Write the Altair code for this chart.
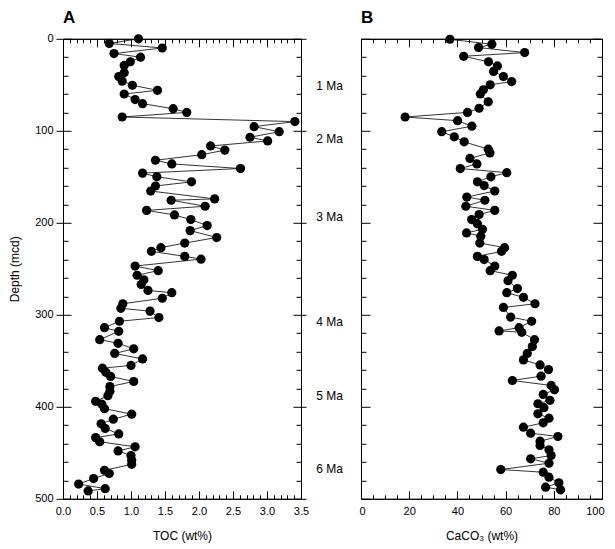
import altair as alt
import pandas as pd

# ---------------- data ----------------
toc_depth = [0, 5, 10, 16, 20, 25, 29, 37, 41, 46, 50.5, 56, 60, 66, 70.5, 76, 80, 85,
             90, 95.5, 101, 107, 111, 116.5, 121, 126, 132, 136, 141, 146, 150, 155.5,
             160, 165.5, 174, 175.5, 182, 186.5, 191.5, 196.5, 203, 208.5, 216, 222, 227,
             231, 236.5, 239.5, 247, 252, 257, 262, 267, 273.5, 276, 282, 288, 293, 296,
             303, 307, 314, 318, 327, 331, 337, 342, 348, 355, 358, 362.5, 367, 372.5,
             378, 383, 388, 394, 397, 402, 408, 413.5, 418.5, 423.5, 429.5, 433.5, 438,
             443.5, 448, 453, 458, 462.5, 469, 472.5, 478, 484, 489, 491.5]
toc_value = [1.11, 0.68, 1.46, 0.75, 1.14, 0.99, 0.90, 0.90, 0.82, 0.87, 1.02, 1.39, 0.90,
             1.06, 1.17, 1.62, 1.82, 0.87, 3.41, 2.81, 3.18, 2.75, 3.01, 2.17, 2.38, 2.04,
             1.36, 1.60, 2.61, 1.17, 1.38, 1.89, 1.36, 1.29, 2.23, 1.59, 2.09, 1.23, 1.64,
             1.88, 2.12, 1.87, 2.26, 1.79, 1.44, 1.30, 1.79, 2.03, 1.06, 1.40, 1.09, 1.19,
             1.15, 1.25, 1.60, 1.46, 0.88, 0.85, 1.28, 1.41, 0.83, 0.61, 0.82, 0.54, 0.81,
             1.04, 0.76, 1.17, 1.00, 0.58, 0.63, 0.70, 1.04, 0.69, 0.69, 0.66, 0.48, 0.57,
             0.61, 1.01, 0.74, 0.56, 0.62, 0.82, 0.48, 0.54, 1.06, 0.81, 1.00, 1.01, 1.01,
             0.61, 0.68, 0.45, 0.23, 0.62, 0.37]

caco3_depth = [0.5, 6, 9.5, 15, 19, 25, 29.5, 35.5, 41, 46.5, 50, 55.5, 60, 68.5, 75.5, 80,
               85, 89, 95, 101, 106.5, 112, 120, 124, 130, 136, 141, 145.5, 150, 155.5,
               159.5, 165.5, 172, 175.5, 182, 186.5, 191, 196.5, 201, 207, 211, 214.5, 222,
               227, 231, 236.5, 240, 247, 252, 257, 263, 271.5, 276, 281, 288, 292, 302.5,
               307, 314, 317.5, 319, 327, 334.5, 342, 349, 354.5, 359.5, 366.7, 371.4,
               376.8, 381.5, 386.6, 393, 396.7, 401, 407.6, 412.4, 417.4, 422.2, 428.7,
               432.3, 437.4, 442, 446.7, 453, 456.5, 461.3, 468.2, 471.1, 476.5, 482.6,
               487.4, 490.2]
caco3_value = [36.9, 54.3, 48.8, 67.9, 42.6, 52.9, 56.6, 55.0, 59.1, 62.5, 53.6, 50.8, 49.5,
               52.8, 49.0, 44.2, 18.3, 40.1, 46.0, 33.5, 38.7, 42.8, 52.8, 53.5, 45.2, 48.1,
               41.2, 60.5, 53.9, 48.3, 51.1, 55.5, 43.9, 51.4, 43.5, 55.5, 49.0, 45.9, 48.3,
               50.4, 43.8, 49.7, 49.3, 59.6, 58.3, 48.3, 51.1, 55.5, 53.6, 62.8, 61.0, 64.9,
               60.5, 67.4, 72.2, 59.1, 62.1, 70.8, 65.6, 57.3, 66.7, 72.0, 71.1, 69.0, 67.4,
               74.3, 77.8, 74.7, 62.8, 78.9, 80.3, 75.6, 78.4, 73.4, 75.9, 73.4, 78.0, 75.6,
               67.4, 70.4, 81.7, 74.3, 74.3, 78.0, 78.9, 70.4, 78.0, 58.0, 75.6, 78.0, 82.1,
               76.6, 82.8]

age_depth = [51, 109, 194, 308, 388, 468]
age_label = ["1 Ma", "2 Ma", "3 Ma", "4 Ma", "5 Ma", "6 Ma"]

toc_major = [0, 0.5, 1, 1.5, 2, 2.5, 3, 3.5]
toc_minor = [round(i * 0.1, 1) for i in range(36) if i % 5 != 0]
caco3_major = [0, 20, 40, 60, 80, 100]
caco3_minor = [i for i in range(0, 101, 5) if i % 20 != 0]
depth_major = [0, 100, 200, 300, 400, 500]
depth_minor = [v for v in range(0, 501, 20) if v % 100 != 0]

FONT = "Liberation Sans"
H = 460


def tick_axis(orient, values, size, offset, **kw):
    return alt.Axis(orient=orient, values=values, tickSize=size, offset=offset,
                    labels=False, domain=False, grid=False, tickColor="black",
                    tickWidth=1, **kw)


def frame_axis(orient):
    return alt.Axis(orient=orient, ticks=False, labels=False, domain=True,
                    domainColor="black", domainWidth=1, grid=False, offset=0)


def panel(df, xfield, xdomain, xmajor, xminor, xtitle, letter, w, left_axis, right_major,
          flush, ages=None):
    xs = alt.Scale(domain=xdomain, nice=False, zero=False)
    ys = alt.Scale(domain=[0, 500], reverse=True, nice=False, zero=False)
    base = alt.Chart(df)

    x_main = alt.Axis(orient="bottom", values=xmajor, tickSize=8, offset=-8, domain=False,
                      grid=False, tickColor="black", labelPadding=7, labelFont=FONT,
                      labelFontSize=11, labelColor="black", labelFlush=flush,
                      labelFlushOffset=2, labelOverlap=False, labelBound=False,
                      title=xtitle, titleFont=FONT, titleFontSize=12,
                      titleFontWeight="normal", titleColor="black", titlePadding=14)

    line = base.mark_line(color="black", strokeWidth=0.8).encode(
        x=alt.X(f"{xfield}:Q", scale=xs, axis=x_main),
        y=alt.Y("depth:Q", scale=ys, axis=left_axis),
        order=alt.Order("depth:Q"),
    )
    pts = base.mark_circle(color="black", opacity=1, size=85).encode(
        x=alt.X(f"{xfield}:Q", scale=xs, axis=tick_axis("bottom", xminor, 4, -4), title=None),
        y=alt.Y("depth:Q", scale=ys, axis=tick_axis("left", depth_minor, 5, -5), title=None),
    )
    g1 = base.mark_point(opacity=0, size=1).encode(
        x=alt.X(f"{xfield}:Q", scale=xs, axis=tick_axis("top", xmajor, 8, -8), title=None),
        y=alt.Y("depth:Q", scale=ys, axis=right_major, title=None),
    )
    g2 = base.mark_point(opacity=0, size=1).encode(
        x=alt.X(f"{xfield}:Q", scale=xs, axis=tick_axis("top", xminor, 4, -4), title=None),
        y=alt.Y("depth:Q", scale=ys, axis=tick_axis("right", depth_minor, 5, -5), title=None),
    )
    g3 = base.mark_point(opacity=0, size=1).encode(
        x=alt.X(f"{xfield}:Q", scale=xs, axis=frame_axis("bottom"), title=None),
        y=alt.Y("depth:Q", scale=ys, axis=frame_axis("left"), title=None),
    )
    g4 = base.mark_point(opacity=0, size=1).encode(
        x=alt.X(f"{xfield}:Q", scale=xs, axis=frame_axis("top"), title=None),
        y=alt.Y("depth:Q", scale=ys, axis=frame_axis("right"), title=None),
    )
    lab = alt.Chart(pd.DataFrame({"t": [letter]})).mark_text(
        align="left", baseline="alphabetic", font=FONT, fontSize=17, fontWeight="bold",
        color="black").encode(x=alt.value(0), y=alt.value(-16), text="t:N")
    layers = [g3, g4, line, pts, g1, g2, lab]
    if ages is not None:
        txt = alt.Chart(ages).mark_text(align="right", baseline="middle", font=FONT,
                                        fontSize=12, color="black").encode(
            y=alt.Y("depth:Q", scale=ys, axis=None),
            x=alt.value(-18),
            text="label:N",
        )
        layers.append(txt)
    return alt.layer(*layers).resolve_axis(x="independent", y="independent").properties(
        width=w, height=H)


toc_df = pd.DataFrame({"depth": toc_depth, "toc": toc_value})
caco3_df = pd.DataFrame({"depth": caco3_depth, "caco3": caco3_value})
age_df = pd.DataFrame({"depth": age_depth, "label": age_label})

left_a = alt.Axis(orient="left", values=depth_major, tickSize=15, offset=-8, domain=False,
                  grid=False, tickColor="black", labelPadding=3, labelFont=FONT,
                  labelFontSize=11, labelColor="black", labelFlush=False, labelOverlap=False,
                  labelBound=False, title="Depth (mcd)", titleFont=FONT, titleFontSize=12,
                  titleFontWeight="normal", titleColor="black", titlePadding=13)
right_a = tick_axis("right", depth_major, 13, -8)
left_b = tick_axis("left", depth_major, 9, -9, title=None)
right_b = tick_axis("right", depth_major, 9, -9)

pa = panel(toc_df, "toc", [0, 3.5], toc_major, toc_minor, "TOC (wt%)", "A", 238,
           left_a, right_a, False)
pb = panel(caco3_df, "caco3", [0, 100], caco3_major, caco3_minor, "CaCO\u2083 (wt%)", "B",
           241, left_b, right_b, True, ages=age_df)

chart = alt.hconcat(pa, pb, spacing=60, bounds="flush").properties(
    padding={"left": 0, "top": -0.2, "right": 0, "bottom": 0}
).configure_view(stroke="black", strokeWidth=1)

chart.save("out.html", embed_options={"renderer": "svg", "actions": False})
